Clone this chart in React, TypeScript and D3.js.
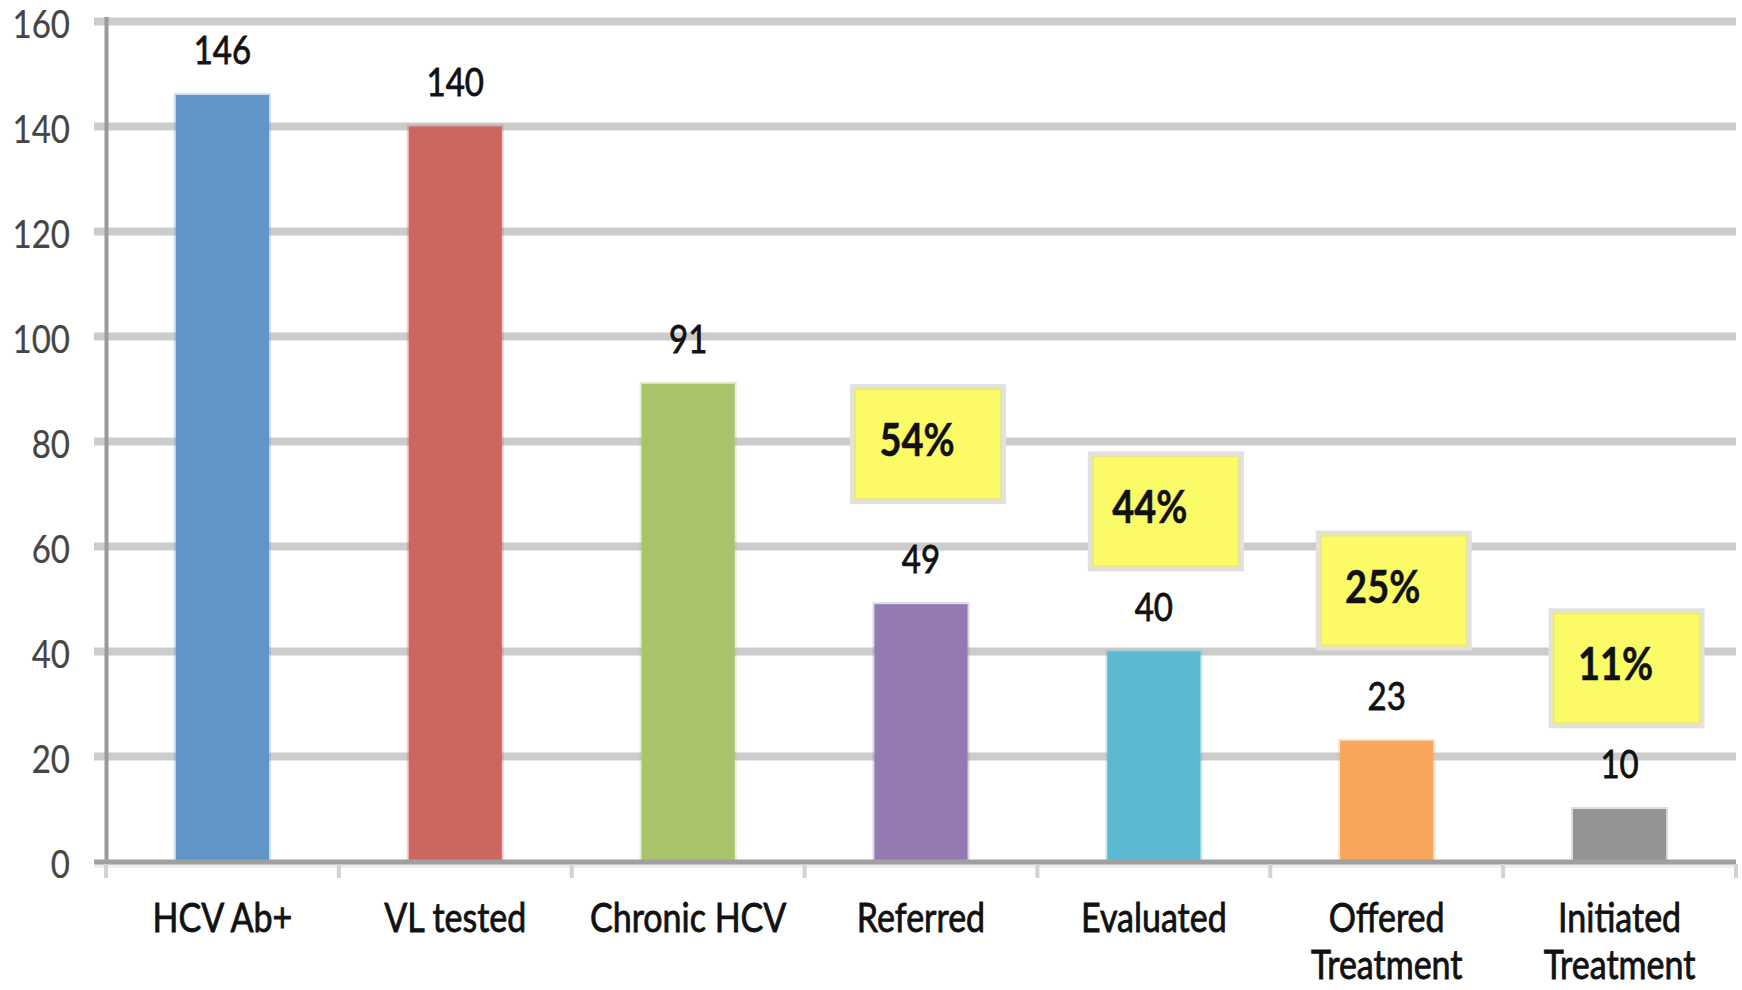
import React from 'react';
import * as d3 from 'd3';

const categories = ['HCV Ab+', 'VL tested', 'Chronic HCV', 'Referred', 'Evaluated', 'Offered Treatment', 'Initiated Treatment'];
const values = [146, 140, 91, 49, 40, 23, 10];
const barColors = ['#6195C8', '#CD665F', '#A8C46B', '#937AB3', '#5BB8D1', '#F8A75A', '#949494'];
const yTicks = [0, 20, 40, 60, 80, 100, 120, 140, 160];

// yellow call-outs: which bar, the text, and the box centre in data units
const calloutCats = ['Referred', 'Evaluated', 'Offered Treatment', 'Initiated Treatment'];
const calloutText = ['54%', '44%', '25%', '11%'];
const calloutLevel = [79.5, 66.7, 51.6, 36.8];

const W = 1742;
const H = 990;
const FONT = 'Lato, "Open Sans", sans-serif';

const App: React.FC = () => {
  const x = d3.scaleBand<string>()
    .domain(categories)
    .range([106, 1736])
    .paddingInner(0.6)
    .paddingOuter(0.3);

  const y = d3.scaleLinear().domain([0, 160]).range([861.5, 21.5]);

  const step = x.step();
  const bw = x.bandwidth();
  const cx = (c: string) => (x(c) ?? 0) + bw / 2;
  const boundaries = d3.range(categories.length + 1).map(k => x.range()[0] + k * step);

  const txt = (
    key: string,
    tx: number,
    ty: number,
    s: string,
    size: number,
    opts: { anchor?: string; weight?: number; fill?: string; sy?: number; sw?: number } = {}
  ) => (
    <text
      key={key}
      transform={`translate(${tx},${ty}) scale(1,${opts.sy ?? 1.17})`}
      textAnchor={opts.anchor ?? 'middle'}
      fontFamily={FONT}
      fontSize={size}
      fontWeight={opts.weight ?? 400}
      fill={opts.fill ?? '#111'}
      stroke={opts.fill ?? '#111'}
      strokeWidth={opts.sw ?? 0.7}
    >
      {s}
    </text>
  );

  return (
    <svg width={W} height={H} style={{ position: 'absolute', left: 0, top: 0, background: '#fff' }}>
      {/* gridlines */}
      {yTicks.filter(t => t > 0).map(t => (
        <line key={`g${t}`} x1={94} x2={1736} y1={y(t)} y2={y(t)} stroke="#cccccc" strokeWidth={8} />
      ))}

      {/* y tick labels */}
      {yTicks.map(t => txt(`yt${t}`, 70, y(t) + 16, String(t), 33, { anchor: 'end', fill: '#454545', sw: 0.2 }))}

      {/* bars */}
      {categories.map((c, i) => (
        <g key={`b${c}`}>
          <rect x={(x(c) ?? 0) - 2} y={y(values[i]) - 2} width={bw + 4} height={y(0) - y(values[i]) + 2}
            fill={barColors[i]} opacity={0.3} />
          <rect x={x(c)} y={y(values[i])} width={bw} height={y(0) - y(values[i])} fill={barColors[i]} />
        </g>
      ))}

      {/* axes */}
      <line x1={106.5} x2={106.5} y1={17} y2={862} stroke="#9a9a9a" strokeWidth={4} />
      <line x1={94} x2={1736} y1={866} y2={866} stroke="#eeeeee" strokeWidth={4} />
      <line x1={94} x2={1736} y1={862} y2={862} stroke="#a0a0a0" strokeWidth={5} />
      {boundaries.map((b, k) => (
        <line key={`tk${k}`} x1={b} x2={b} y1={864} y2={878} stroke="#d2d2d2" strokeWidth={4} />
      ))}

      {/* value labels */}
      {categories.map((c, i) => txt(`v${c}`, cx(c), y(values[i]) - 31, String(values[i]), 33))}

      {/* category labels */}
      {categories.map(c => {
        const words = c.split(' ');
        const lines = words.length > 1 && words[words.length - 1] === 'Treatment'
          ? [words.slice(0, -1).join(' '), 'Treatment']
          : [c];
        return lines.map((l, j) => txt(`c${c}${j}`, cx(c), 932 + j * 47, l, 34));
      })}

      {/* call-outs */}
      {calloutCats.map((c, i) => {
        const bcx = cx(c) + (c === 'Evaluated' ? 12 : 7);
        const bcy = y(calloutLevel[i]);
        return (
          <g key={`co${c}`}>
            <rect x={bcx - 76} y={bcy - 58} width={152} height={116} fill="#FBFB68" stroke="#e1e1e1" strokeWidth={4} />
            <rect x={bcx - 73} y={bcy - 55} width={146} height={110} fill="none" stroke="#e9e68f" strokeWidth={2} />
            {txt(`ct${c}`, cx(c) - 4, bcy + 12, calloutText[i], 38, { weight: 700, sy: 1.2, sw: 0.4 })}
          </g>
        );
      })}
    </svg>
  );
};

export default App;
